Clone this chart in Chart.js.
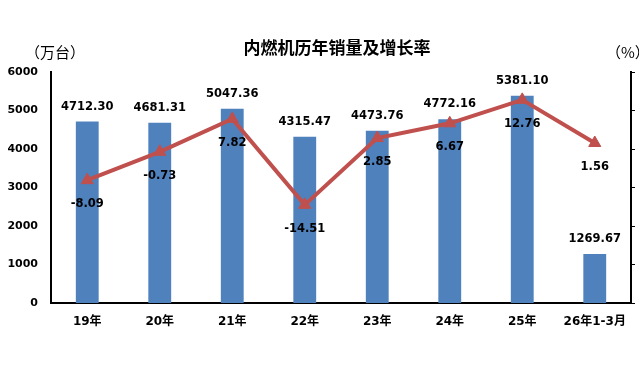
<!DOCTYPE html>
<html lang="zh">
  <head>
    <meta charset="UTF-8" />
    <title>内燃机历年销量及增长率</title>
    <script src="https://cdn.jsdelivr.net/npm/chart.js"></script>
    <style>
      body {
        margin: 0;
        background: #fff;
      }
      #wrap {
        width: 639px;
        height: 390px;
      }
    </style>
  </head>
  <body>
    <div id="wrap"><canvas id="chart"></canvas></div>
    <script>
      const categories = ["19年", "20年", "21年", "22年", "23年", "24年", "25年", "26年1-3月"];
      const sales = [4712.3, 4681.31, 5047.36, 4315.47, 4473.76, 4772.16, 5381.1, 1269.67];
      const growth = [-8.09, -0.73, 7.82, -14.51, 2.85, 6.67, 12.76, 1.56];
      const salesTicks = [0, 1000, 2000, 3000, 4000, 5000, 6000];

      const FONT = '"DejaVu Sans", "Noto Sans CJK SC", sans-serif';

      // value labels + title texts (no datalabels plugin offline)
      const labelPlugin = {
        id: "labels",
        afterDatasetsDraw(chart) {
          const ctx = chart.ctx;
          ctx.save();
          ctx.fillStyle = "#000";
          ctx.textAlign = "center";
          ctx.textBaseline = "middle";
          ctx.font = "bold 11.5px " + FONT;

          chart.getDatasetMeta(1).data.forEach((bar, i) => {
            ctx.fillText(sales[i].toFixed(2), bar.x, bar.y - 15);
          });
          chart.getDatasetMeta(0).data.forEach((pt, i) => {
            ctx.fillText(growth[i].toFixed(2), pt.x, pt.y + 24);
          });

          ctx.font = 'bold 17px "Noto Sans CJK SC", sans-serif';
          ctx.fillText("内燃机历年销量及增长率", 337, 48);

          ctx.font = '15px "Noto Sans CJK SC", sans-serif';
          ctx.textAlign = "left";
          ctx.fillText("（万台）", 25, 52);
          ctx.fillText("（%）", 606, 52);
          ctx.restore();
        },
      };

      new Chart(document.getElementById("chart"), {
        data: {
          labels: categories,
          datasets: [
            {
              type: "line",
              label: "增长率",
              data: growth,
              yAxisID: "y1",
              borderColor: "#C0504D",
              backgroundColor: "#C0504D",
              borderWidth: 4,
              pointStyle: "triangle",
              pointRadius: 7,
              pointHoverRadius: 7,
              pointBorderWidth: 1,
              tension: 0,
              order: 0,
            },
            {
              type: "bar",
              label: "销量",
              data: sales,
              yAxisID: "y",
              backgroundColor: "#4F81BD",
              barPercentage: 0.315,
              categoryPercentage: 1,
              order: 1,
            },
          ],
        },
        options: {
          responsive: true,
          maintainAspectRatio: false,
          animation: false,
          layout: { padding: { top: 72, left: 0, right: 0, bottom: 0 } },
          plugins: {
            legend: { display: false },
            tooltip: { enabled: false },
          },
          scales: {
            x: {
              grid: { display: false, drawTicks: false },
              border: { display: true, color: "#000", width: 2 },
              ticks: {
                padding: 12,
                color: "#000",
                font: { family: FONT, size: 12, weight: "bold" },
              },
              afterFit: (s) => {
                s.height = 87;
              },
            },
            y: {
              position: "left",
              min: 0,
              max: 6000,
              afterBuildTicks: (s) => {
                s.ticks = salesTicks.map((v) => ({ value: v }));
              },
              grid: { display: false, drawTicks: false },
              border: { display: true, color: "#000", width: 2 },
              ticks: {
                padding: 13,
                color: "#000",
                font: { family: FONT, size: 11, weight: "bold" },
                callback: (v) => String(v),
              },
              afterFit: (s) => {
                s.width = 51;
              },
            },
            y1: {
              position: "right",
              min: -40,
              max: 20,
              ticks: { display: false, stepSize: 10 },
              grid: {
                drawOnChartArea: false,
                drawTicks: true,
                tickLength: 4,
                color: "#000",
              },
              border: { display: true, color: "#000", width: 2 },
              afterFit: (s) => {
                s.width = 5;
              },
            },
          },
        },
        plugins: [labelPlugin],
      });
    </script>
  </body>
</html>
